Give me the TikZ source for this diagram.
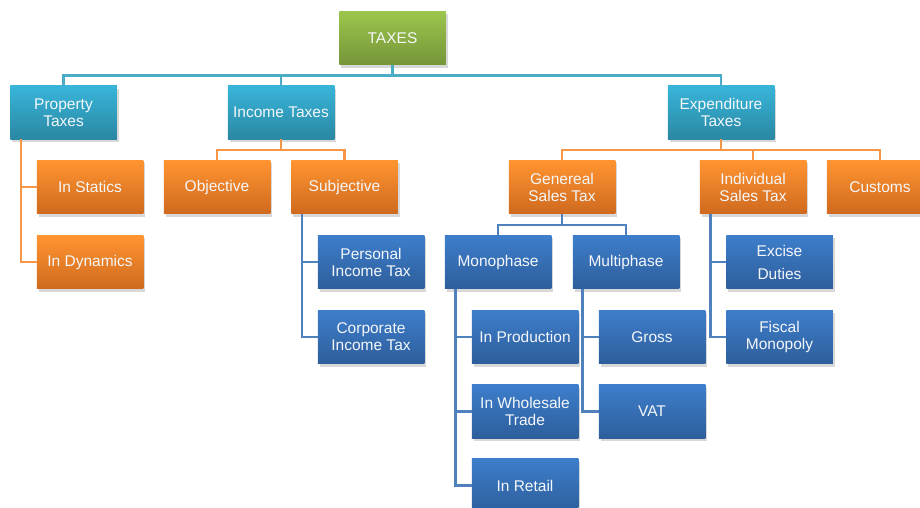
\documentclass[tikz,border=0pt]{standalone}
\usepackage{fontspec}
\setmainfont{Liberation Sans}
\usetikzlibrary{shadows}
\definecolor{gTop}{HTML}{9CC64B}\definecolor{gBot}{HTML}{76953A}
\definecolor{cTop}{HTML}{38B5D9}\definecolor{cBot}{HTML}{2A88A3}
\definecolor{oTop}{HTML}{FF9430}\definecolor{oBot}{HTML}{CF6A1F}
\definecolor{bTop}{HTML}{3D7ECB}\definecolor{bBot}{HTML}{2E5E9B}
\definecolor{cLine}{HTML}{4BACC6}\definecolor{oLine}{HTML}{F79646}\definecolor{bLine}{HTML}{4F81BD}
\definecolor{txt}{HTML}{F4F7FA}
\tikzset{
  box/.style={minimum width=106.5pt, minimum height=53.5pt, inner sep=0pt, align=center,
    text=txt, font=\fontsize{15.5}{17}\selectfont,
    drop shadow={shadow xshift=2pt, shadow yshift=-3pt, opacity=0.3}},
  gbox/.style={box, top color=gTop, bottom color=gBot},
  cbox/.style={box, top color=cTop, bottom color=cBot},
  obox/.style={box, top color=oTop, bottom color=oBot},
  bbox/.style={box, top color=bTop, bottom color=bBot},
  cl/.style={draw=cLine, line width=2.2pt},
  ol/.style={draw=oLine, line width=2.2pt},
  bl/.style={draw=bLine, line width=2.2pt},
}
\begin{document}
\begin{tikzpicture}[x=1pt, y=-1pt]
\useasboundingbox (0,0) rectangle (920,508);
\fill[white] (0,0) rectangle (920,508);
% boxes
\node[gbox] (taxes) at (392.5,38) {TAXES};
\node[cbox] (prop) at (63.5,112.5) {Property\\Taxes};
\node[cbox] (income) at (281,112.5) {Income Taxes};
\node[cbox] (expend) at (721,112.5) {Expenditure\\Taxes};
\node[obox] (statics) at (90,187) {In Statics};
\node[obox] (dynamics) at (90,262) {In Dynamics};
\node[obox] (objective) at (217,187) {Objective};
\node[obox] (subjective) at (344.5,187) {Subjective};
\node[bbox] (personal) at (371,262) {Personal\\Income Tax};
\node[bbox] (corporate) at (371,337) {Corporate\\Income Tax};
\node[obox] (genereal) at (562,187) {Genereal\\Sales Tax};
\node[obox] (individual) at (753,187) {Individual\\Sales Tax};
\node[obox] (customs) at (880,187) {Customs};
\node[bbox] (mono) at (498,262) {Monophase};
\node[bbox] (multi) at (626,262) {Multiphase};
\node[bbox] (excise) at (779.5,262) {Excise\\[6pt]Duties};
\node[bbox] (fiscal) at (779.5,337) {Fiscal\\Monopoly};
\node[bbox] (production) at (525,337) {In Production};
\node[bbox] (wholesale) at (525,411.5) {In Wholesale\\Trade};
\node[bbox] (retail) at (525,485.5) {In Retail};
\node[bbox] (gross) at (652,337) {Gross};
\node[bbox] (vat) at (652,411.5) {VAT};
% connectors
\draw[cl] (taxes.south) -- ++(0,10.5) -| (prop.north);
\draw[cl] (taxes.south) -- ++(0,10.5) -| (income.north);
\draw[cl] (taxes.south) -- ++(0,10.5) -| (expend.north);
\draw[ol] (prop.south west) ++(11,0) |- (statics.west);
\draw[ol] (prop.south west) ++(11,0) |- (dynamics.west);
\draw[ol] (income.south) -- ++(0,10.5) -| (objective.north);
\draw[ol] (income.south) -- ++(0,10.5) -| (subjective.north);
\draw[bl] (subjective.south west) ++(11,0) |- (personal.west);
\draw[bl] (subjective.south west) ++(11,0) |- (corporate.west);
\draw[ol] (expend.south) -- ++(0,10.5) -| (genereal.north);
\draw[ol] (expend.south) -- ++(0,10.5) -| (individual.north);
\draw[ol] (expend.south) -- ++(0,10.5) -| (customs.north);
\draw[bl] (genereal.south) -- ++(0,11) -| (mono.north);
\draw[bl] (genereal.south) -- ++(0,11) -| (multi.north);
\draw[bl] (mono.south west) ++(11,0) |- (production.west);
\draw[bl] (mono.south west) ++(11,0) |- (wholesale.west);
\draw[bl] (mono.south west) ++(11,0) |- (retail.west);
\draw[bl] (multi.south west) ++(10,0) |- (gross.west);
\draw[bl] (multi.south west) ++(10,0) |- (vat.west);
\draw[bl] (individual.south west) ++(11,0) |- (excise.west);
\draw[bl] (individual.south west) ++(11,0) |- (fiscal.west);
\end{tikzpicture}
\end{document}
